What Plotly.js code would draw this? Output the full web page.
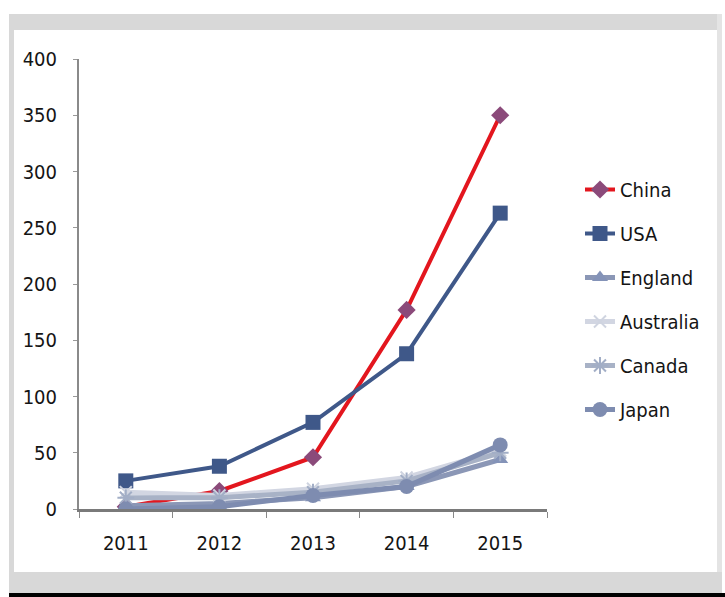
<!DOCTYPE html>
<html>
<head>
<meta charset="utf-8">
<script src="https://cdn.plot.ly/plotly-3.0.1.min.js"></script>
<style>html,body{margin:0;padding:0;background:#fff;}#chart{width:725px;height:597px;}</style>
</head>
<body>
<div id="chart"></div>
<script>
var years = ['2011', '2012', '2013', '2014', '2015'];
var china = [2, 16, 46, 177, 350];
var usa = [25, 38, 77, 138, 263];
var england = [3, 5, 10, 20, 44];
var australia = [15, 12, 18, 28, 52];
var canada = [10, 10, 15, 25, 50];
var japan = [0, 2, 12, 20, 57];
var yTicks = [0, 50, 100, 150, 200, 250, 300, 350, 400];

var FONT = '"Liberation Sans Narrow", "DejaVu Sans Condensed", "Arial Narrow", sans-serif';

function series(name, y, lineColor, lineWidth, markerSymbol, markerColor, markerSize, group) {
  var thin = markerSymbol.indexOf('-thin') >= 0 || markerSymbol.indexOf('asterisk') >= 0;
  return {
    type: 'scatter', mode: 'lines+markers', name: name, x: years, y: y,
    legendgroup: group,
    line: {color: lineColor, width: lineWidth},
    marker: {symbol: markerSymbol, color: markerColor, size: markerSize,
             line: {color: markerColor, width: thin ? 2 : 0}}
  };
}

var data = [
  series('China', china, '#e3161e', 4, 'diamond', '#8b4a7a', 14, 'g1'),
  series('USA', usa, '#3f5889', 4, 'square', '#3f5889', 15, 'g2'),
  series('England', england, '#8b97b6', 5, 'triangle-up', '#8493b8', 14, 'g3'),
  series('Australia', australia, '#d2d6e2', 5, 'x-thin', '#cfd4e0', 12, 'g4'),
  series('Canada', canada, '#a8b2c6', 5, 'asterisk', '#a2aec6', 14, 'g5'),
  series('Japan', japan, '#7e8cb0', 5, 'circle', '#7e8cb0', 15, 'g6')
];

function px2x(px) { return (px - 79) / 468; }
function px2y(py) { return (509 - py) / 450; }

var frame = '#d8d8d8';
var shapes = [
  {type: 'rect', xref: 'paper', yref: 'paper', x0: px2x(9), x1: px2x(722), y0: px2y(14), y1: px2y(30), fillcolor: frame, line: {width: 0}, layer: 'below'},
  {type: 'rect', xref: 'paper', yref: 'paper', x0: px2x(9), x1: px2x(14), y0: px2y(14), y1: px2y(593), fillcolor: frame, line: {width: 0}, layer: 'below'},
  {type: 'rect', xref: 'paper', yref: 'paper', x0: px2x(717), x1: px2x(722), y0: px2y(14), y1: px2y(593), fillcolor: '#e4e4e4', line: {width: 0}, layer: 'below'},
  {type: 'rect', xref: 'paper', yref: 'paper', x0: px2x(9), x1: px2x(722), y0: px2y(572), y1: px2y(593), fillcolor: frame, line: {width: 0}, layer: 'below'},
  {type: 'rect', xref: 'paper', yref: 'paper', x0: px2x(9), x1: px2x(725), y0: px2y(593), y1: px2y(597), fillcolor: '#000000', line: {width: 0}, layer: 'below'}
];

var layout = {
  width: 725, height: 597,
  margin: {l: 79, r: 178, t: 59, b: 88},
  paper_bgcolor: '#ffffff', plot_bgcolor: 'rgba(0,0,0,0)',
  font: {family: FONT, size: 20, color: '#141414'},
  showlegend: true,
  legend: {x: px2x(580), xanchor: 'left', y: px2y(170), yanchor: 'top',
           font: {family: FONT, size: 20, color: '#141414'},
           tracegroupgap: 15, bgcolor: 'rgba(0,0,0,0)'},
  xaxis: {
    type: 'category', range: [-0.5, 4.5], tickvals: years, ticktext: years,
    showgrid: false, zeroline: false, showline: true, linecolor: '#7a7a7a', linewidth: 3,
    ticks: 'outside', tickson: 'boundaries', ticklen: 6, tickcolor: '#888', tickwidth: 1,
    ticklabelstandoff: 14, fixedrange: true
  },
  yaxis: {
    range: [0, 400], tickvals: yTicks,
    showgrid: false, zeroline: false, showline: true, linecolor: '#8a8a8a', linewidth: 2,
    ticks: 'outside', ticklen: 4, tickcolor: '#999', tickwidth: 1,
    ticklabelstandoff: 12, fixedrange: true
  },
  shapes: shapes
};

Plotly.newPlot('chart', data, layout, {displayModeBar: false, staticPlot: true});
</script>
</body>
</html>
